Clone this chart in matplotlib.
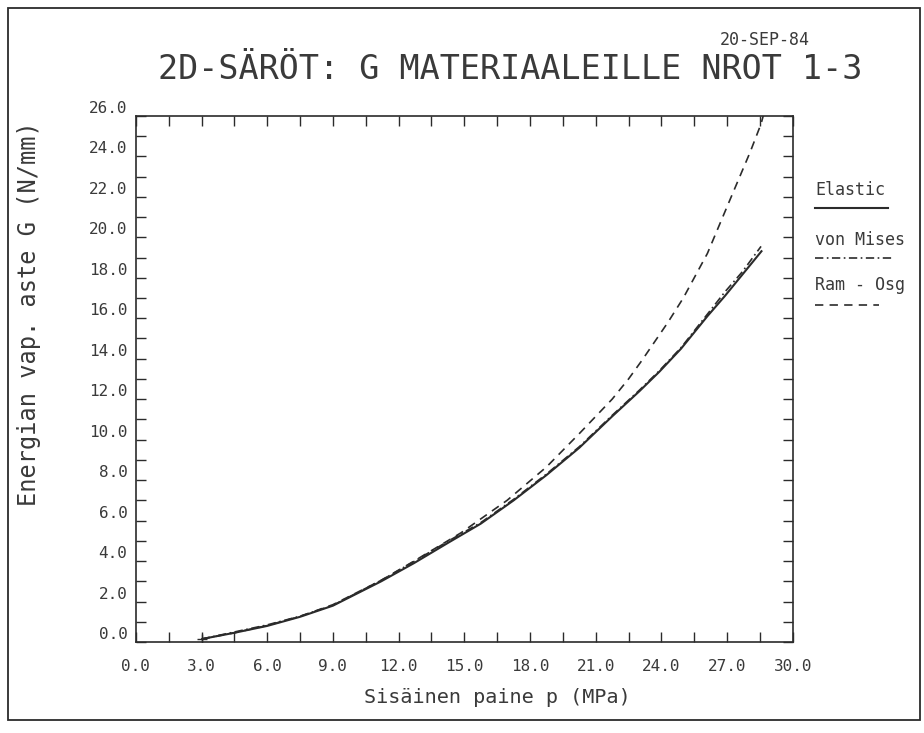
import matplotlib
matplotlib.use("Agg")
import matplotlib.pyplot as plt
from matplotlib.lines import Line2D
from matplotlib.patches import Rectangle
from matplotlib.ticker import MultipleLocator, FormatStrFormatter

plt.rcParams["font.family"] = ["DejaVu Sans Mono", "DejaVu Sans"]
plt.rcParams["lines.scale_dashes"] = False

INK = "#2b2b2b"
TXT = "#3a3a3a"

# values (p in MPa, G in N/mm)
elastic_p = [3.0, 4.5, 6.0, 7.5, 9.0, 11.2, 12.7, 14.25, 15.75, 17.25, 18.75,
             20.25, 21.75, 23.0, 23.9, 24.9, 26.1, 26.9, 28.6]
elastic_g = [0.15, 0.46, 0.80, 1.25, 1.80, 3.0, 3.9, 4.9, 5.85, 7.0, 8.25,
             9.6, 11.15, 12.4, 13.35, 14.5, 16.1, 17.1, 19.35]

mises_p = [3.0, 4.5, 6.0, 7.5, 9.0, 11.2, 12.7, 14.25, 15.75, 17.25, 18.75,
           20.25, 21.75, 23.0, 23.9, 24.9, 26.1, 26.9, 27.7, 28.55]
mises_g = [0.15, 0.5, 0.85, 1.28, 1.82, 3.05, 3.98, 4.98, 5.9, 7.05, 8.3,
           9.65, 11.2, 12.45, 13.4, 14.55, 16.2, 17.3, 18.3, 19.55]

ramosg_p = [3.0, 4.5, 6.0, 7.5, 9.0, 11.2, 12.7, 14.85, 16.95, 18.75, 20.25,
            21.75, 22.5, 23.1, 24.3, 25.0, 26.1, 27.15, 28.05, 28.55, 28.65]
ramosg_g = [0.15, 0.46, 0.82, 1.27, 1.85, 3.05, 4.0, 5.4, 7.0, 8.65, 10.3,
            12.0, 13.0, 13.9, 15.8, 17.0, 19.2, 21.9, 24.2, 25.6, 26.0]

legend_names = ["Elastic", "von Mises", "Ram - Osg"]

title = "2D-SÄRÖT: G MATERIAALEILLE NROT 1-3"
date_stamp = "20-SEP-84"


fig = plt.figure(figsize=(9.24, 7.33), dpi=100)
ax = fig.add_axes([0.147, 0.124, 0.711, 0.718])

ax.plot(elastic_p, elastic_g, color=INK, lw=1.5, solid_capstyle="butt")
ax.plot(mises_p, mises_g, color=INK, lw=1.2, dashes=(6, 2.5, 1.2, 2.5))
ax.plot(ramosg_p, ramosg_g, color=INK, lw=1.2, dashes=(6, 4.5))
ax.plot([elastic_p[0]], [elastic_g[0]], marker="+", color=INK, ms=7, mew=1.0)

ax.set_xlim(0, 30)
ax.set_ylim(0, 26)
ax.xaxis.set_major_locator(MultipleLocator(3))
ax.xaxis.set_minor_locator(MultipleLocator(1.5))
ax.yaxis.set_major_locator(MultipleLocator(2))
ax.yaxis.set_minor_locator(MultipleLocator(1))
ax.xaxis.set_major_formatter(FormatStrFormatter("%.1f"))
ax.yaxis.set_major_formatter(FormatStrFormatter("%.1f"))

ax.tick_params(which="both", direction="in", top=True, right=True,
               length=7, width=1.0, color=INK, labelcolor=TXT)
ax.tick_params(axis="x", labelsize=11.5, pad=12)
ax.tick_params(axis="y", labelsize=11.5, pad=6)
plt.setp(ax.get_yticklabels(), va="bottom")

for s in ax.spines.values():
    s.set_linewidth(1.2)
    s.set_color(INK)

ax.set_xlabel("Sisäinen paine p (MPa)", fontsize=14.5, color=TXT)
ax.xaxis.set_label_coords(0.55, -0.088)
ax.set_ylabel("Energian vap. aste G (N/mm)", fontsize=17, color=TXT)
ax.yaxis.set_label_coords(-0.145, 0.625)

fig.text(0.552, 0.905, title, fontsize=24, color=TXT, ha="center", va="center")
fig.text(0.828, 0.946, date_stamp, fontsize=12, color=TXT, ha="center", va="center")

# legend drawn beside the plot: name above a line sample
leg_styles = [dict(lw=1.5), dict(lw=1.2, dashes=(6, 2.5, 1.2, 2.5)), dict(lw=1.2, dashes=(6, 4.5))]
leg_text_y = [0.741, 0.673, 0.611]
leg_line_y = [0.716, 0.648, 0.584]
leg_line_x1 = [0.961, 0.966, 0.951]
for name, st, ty, ly, x1 in zip(legend_names, leg_styles, leg_text_y, leg_line_y, leg_line_x1):
    fig.text(0.882, ty, name, fontsize=12, color=TXT, ha="left", va="center")
    fig.add_artist(Line2D([0.882, x1], [ly, ly], color=INK, transform=fig.transFigure, **st))

fig.add_artist(Rectangle((0.009, 0.018), 0.987, 0.971, transform=fig.transFigure,
                         fill=False, edgecolor=INK, lw=1.3))

fig.savefig("out.png", dpi=100)
